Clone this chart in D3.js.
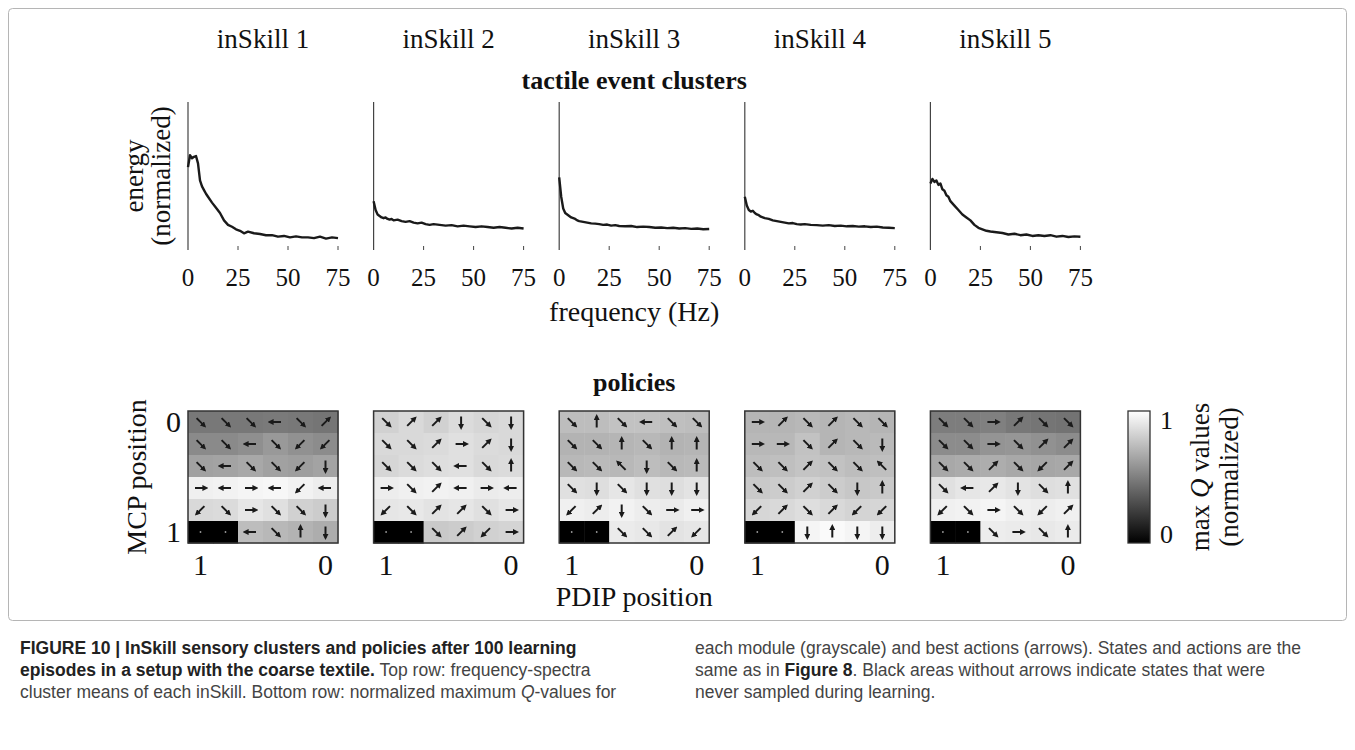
<!DOCTYPE html>
<html lang="en">
<head>
<meta charset="UTF-8">
<title>inSkill clusters and policies</title>
<script src="https://d3js.org/d3.v7.min.js"></script>
<style>
  body { margin: 0; background: #fff; }
  svg text.serif { font-family: "Liberation Serif", "Times New Roman", serif; fill: #111; }
  svg text.cap { font-family: "Liberation Sans", Arial, sans-serif; font-size: 17.5px; fill: #444; }
</style>
</head>
<body>
<svg id="fig" width="1355" height="750"></svg>
<script>

// ---- data ----
var skillNames = ["inSkill 1", "inSkill 2", "inSkill 3", "inSkill 4", "inSkill 5"];
var freqTicks = [0, 25, 50, 75];

// frequency samples (Hz)
var freqHz = [0, 1, 2, 3, 4, 5, 6, 7, 8, 9, 10, 12, 14, 16, 18, 20, 22, 24, 26, 28,
              30, 33, 36, 39, 42, 45, 48, 51, 54, 57, 60, 63, 66, 69, 72, 75];

// normalized energy of the cluster means, one array per inSkill
var energySkill1 = [0.56, 0.64, 0.62, 0.63, 0.635, 0.585, 0.47, 0.43, 0.405, 0.38, 0.36, 0.32, 0.285, 0.25, 0.2, 0.17,
                    0.157, 0.14, 0.13, 0.113, 0.124, 0.113, 0.108, 0.1, 0.1, 0.09, 0.095, 0.085, 0.092, 0.085,
                    0.085, 0.08, 0.09, 0.077, 0.085, 0.08];
var energySkill2 = [0.33, 0.27, 0.24, 0.23, 0.22, 0.215, 0.22, 0.21, 0.205, 0.21, 0.2, 0.205, 0.195, 0.19, 0.195, 0.185,
                    0.18, 0.185, 0.175, 0.17, 0.175, 0.17, 0.165, 0.168, 0.16, 0.165, 0.16, 0.155, 0.16, 0.155,
                    0.15, 0.155, 0.15, 0.145, 0.15, 0.145];
var energySkill3 = [0.49, 0.36, 0.28, 0.25, 0.24, 0.23, 0.22, 0.215, 0.21, 0.2, 0.195, 0.19, 0.185, 0.18, 0.178, 0.175,
                    0.17, 0.172, 0.165, 0.168, 0.162, 0.16, 0.162, 0.155, 0.158, 0.155, 0.15, 0.152, 0.148, 0.15,
                    0.145, 0.148, 0.143, 0.145, 0.14, 0.142];
var energySkill4 = [0.36, 0.3, 0.27, 0.26, 0.265, 0.25, 0.24, 0.235, 0.225, 0.22, 0.215, 0.21, 0.2, 0.195, 0.19, 0.185,
                    0.18, 0.182, 0.175, 0.172, 0.175, 0.17, 0.168, 0.165, 0.168, 0.162, 0.165, 0.16, 0.162, 0.158,
                    0.16, 0.155, 0.158, 0.152, 0.15, 0.148];
var energySkill5 = [0.45, 0.48, 0.46, 0.47, 0.44, 0.45, 0.41, 0.4, 0.37, 0.36, 0.33, 0.3, 0.27, 0.24, 0.22, 0.2,
                    0.17, 0.15, 0.14, 0.13, 0.125, 0.12, 0.115, 0.105, 0.11, 0.1, 0.105, 0.095, 0.1, 0.095,
                    0.1, 0.09, 0.095, 0.088, 0.092, 0.09];

// max Q values (normalized), rows MCP 0 -> 1, columns PDIP 1 -> 0
var qSkill1 = [[0.47, 0.47, 0.47, 0.48, 0.47, 0.46],
               [0.54, 0.54, 0.56, 0.6, 0.57, 0.55],
               [0.63, 0.64, 0.66, 0.63, 0.62, 0.64],
               [0.94, 0.95, 0.96, 0.97, 0.95, 0.93],
               [0.85, 0.86, 0.9, 0.88, 0.82, 0.8],
               [0, 0, 0.74, 0.72, 0.7, 0.68]];
var qSkill2 = [[0.82, 0.85, 0.82, 0.86, 0.84, 0.85],
               [0.85, 0.85, 0.86, 0.88, 0.86, 0.85],
               [0.84, 0.86, 0.87, 0.88, 0.85, 0.86],
               [0.93, 0.94, 0.95, 0.94, 0.92, 0.93],
               [0.9, 0.91, 0.89, 0.9, 0.88, 0.9],
               [0, 0, 0.79, 0.8, 0.82, 0.83]];
var qSkill3 = [[0.74, 0.74, 0.76, 0.76, 0.75, 0.74],
               [0.7, 0.7, 0.71, 0.72, 0.7, 0.71],
               [0.72, 0.73, 0.72, 0.74, 0.72, 0.73],
               [0.88, 0.87, 0.9, 0.88, 0.87, 0.89],
               [0.94, 0.93, 0.95, 0.93, 0.92, 0.94],
               [0, 0, 0.92, 0.91, 0.89, 0.9]];
var qSkill4 = [[0.71, 0.71, 0.72, 0.71, 0.72, 0.71],
               [0.72, 0.72, 0.76, 0.71, 0.72, 0.73],
               [0.74, 0.75, 0.77, 0.76, 0.74, 0.75],
               [0.79, 0.8, 0.82, 0.8, 0.78, 0.79],
               [0.84, 0.85, 0.87, 0.85, 0.83, 0.84],
               [0, 0, 0.96, 0.98, 0.96, 0.93]];
var qSkill5 = [[0.49, 0.49, 0.5, 0.47, 0.46, 0.45],
               [0.55, 0.55, 0.58, 0.59, 0.57, 0.55],
               [0.66, 0.67, 0.68, 0.66, 0.65, 0.66],
               [0.88, 0.9, 0.91, 0.89, 0.87, 0.88],
               [0.94, 0.95, 0.96, 0.94, 0.93, 0.94],
               [0, 0, 0.93, 0.92, 0.91, 0.92]];

// best action per state ("o" = never sampled)
var actSkill1 = [["SE", "SE", "SE", "W", "SE", "NE"],
                 ["SE", "SE", "W", "SE", "SW", "SW"],
                 ["SE", "W", "SE", "SE", "SW", "S"],
                 ["E", "W", "E", "W", "SW", "W"],
                 ["SW", "SE", "E", "SE", "SE", "S"],
                 ["o", "o", "W", "SE", "N", "S"]];
var actSkill2 = [["SE", "NE", "NE", "S", "SE", "S"],
                 ["SE", "SE", "NE", "E", "NE", "S"],
                 ["SE", "SE", "SE", "W", "SE", "N"],
                 ["E", "SE", "NE", "W", "E", "W"],
                 ["SW", "SE", "NE", "NE", "SE", "E"],
                 ["o", "o", "SE", "NE", "SW", "E"]];
var actSkill3 = [["SE", "N", "SE", "W", "SE", "SE"],
                 ["SE", "SE", "N", "SE", "N", "N"],
                 ["SE", "SE", "NW", "S", "SE", "N"],
                 ["SE", "S", "SE", "S", "S", "S"],
                 ["SW", "NE", "S", "SE", "E", "E"],
                 ["o", "o", "SE", "SE", "NE", "SW"]];
var actSkill4 = [["E", "NE", "SE", "NE", "SE", "SE"],
                 ["E", "E", "SE", "NE", "SE", "S"],
                 ["SE", "SE", "NE", "SE", "SE", "NW"],
                 ["SE", "SE", "NE", "SE", "S", "N"],
                 ["SW", "NE", "SE", "NE", "SW", "SW"],
                 ["o", "o", "S", "N", "S", "S"]];
var actSkill5 = [["SE", "SE", "E", "NE", "SE", "SE"],
                 ["SE", "SE", "E", "SE", "NE", "NE"],
                 ["SE", "SE", "NE", "SE", "SW", "NE"],
                 ["SE", "W", "NE", "S", "SE", "N"],
                 ["SW", "SE", "E", "SE", "SW", "NE"],
                 ["o", "o", "SE", "E", "SE", "N"]];

var energies = [energySkill1, energySkill2, energySkill3, energySkill4, energySkill5];
var qValues = [qSkill1, qSkill2, qSkill3, qSkill4, qSkill5];
var actions = [actSkill1, actSkill2, actSkill3, actSkill4, actSkill5];

// ---- layout ----
var panelX0 = 188, panelStep = 185.6, panelW = 150;
var topY0 = 102, topY1 = 250;
var mapY0 = 411, mapY1 = 543;
var midX = panelX0 + 2 * panelStep + panelW / 2;

var svg = d3.select("#fig");

// arrow head
svg.append("defs").append("marker")
    .attr("id", "ah")
    .attr("viewBox", "0 0 10 10")
    .attr("refX", 6).attr("refY", 5)
    .attr("markerWidth", 3).attr("markerHeight", 3)
    .attr("orient", "auto")
  .append("path")
    .attr("d", "M0,0 L10,5 L0,10 z")
    .attr("fill", "#1a1a1a");

// figure frame
svg.append("rect")
    .attr("x", 8.5).attr("y", 8.5)
    .attr("width", 1338).attr("height", 612)
    .attr("rx", 4)
    .attr("fill", "none")
    .attr("stroke", "#b5b5b5");

// scales shared by all panels
var x = d3.scaleLinear().domain([0, 75]).range([0, panelW]);
var y = d3.scaleLinear().domain([0, 1]).range([topY1 - topY0, 0]);
var col = d3.scaleBand().domain(d3.range(6)).range([0, panelW]);
var row = d3.scaleBand().domain(d3.range(6)).range([0, mapY1 - mapY0]);
var gray = d3.scaleLinear().domain([0, 1]).range(["#000000", "#ffffff"]);

var dirs = {
  E: [1, 0], W: [-1, 0], N: [0, -1], S: [0, 1],
  NE: [0.71, -0.71], NW: [-0.71, -0.71], SE: [0.71, 0.71], SW: [-0.71, 0.71]
};
var arrowLen = 11;

skillNames.forEach(function(name, i) {
  var px = panelX0 + i * panelStep;

  // column title
  svg.append("text").attr("class", "serif")
      .attr("x", px + panelW / 2).attr("y", 48)
      .attr("text-anchor", "middle")
      .style("font-size", "27px")
      .text(name);

  // spectrum panel
  var g = svg.append("g").attr("transform", "translate(" + px + "," + topY0 + ")");
  g.append("line")
      .attr("x1", 0).attr("x2", 0).attr("y1", 0).attr("y2", topY1 - topY0)
      .attr("stroke", "#444").attr("stroke-width", 1.2);
  g.selectAll("line.tick").data(freqTicks.slice(1)).enter().append("line")
      .attr("class", "tick")
      .attr("x1", function(d) { return x(d); }).attr("x2", function(d) { return x(d); })
      .attr("y1", topY1 - topY0).attr("y2", topY1 - topY0 - 4)
      .attr("stroke", "#444");
  g.selectAll("text.tl").data(freqTicks).enter().append("text")
      .attr("class", "serif tl")
      .attr("x", function(d) { return x(d); })
      .attr("y", 286 - topY0)
      .attr("text-anchor", "middle")
      .style("font-size", "25px")
      .text(function(d) { return d; });

  var line = d3.line()
      .x(function(d, k) { return x(freqHz[k]); })
      .y(function(d) { return y(d); });
  g.append("path")
      .datum(energies[i])
      .attr("d", line)
      .attr("fill", "none")
      .attr("stroke", "#1a1a1a")
      .attr("stroke-width", 2.4)
      .attr("stroke-linejoin", "round");

  // policy map
  var h = svg.append("g").attr("transform", "translate(" + px + "," + mapY0 + ")");
  var cells = [];
  qValues[i].forEach(function(r, ri) {
    r.forEach(function(v, ci) { cells.push({r: ri, c: ci, v: v, a: actions[i][ri][ci]}); });
  });
  h.selectAll("rect.cell").data(cells).enter().append("rect")
      .attr("class", "cell")
      .attr("x", function(d) { return col(d.c); })
      .attr("y", function(d) { return row(d.r); })
      .attr("width", col.bandwidth() + 0.5)
      .attr("height", row.bandwidth() + 0.5)
      .attr("fill", function(d) { return gray(d.v); });

  h.selectAll("line.arrow").data(cells.filter(function(d) { return d.a !== "o"; })).enter().append("line")
      .attr("class", "arrow")
      .attr("x1", function(d) { return col(d.c) + col.bandwidth() / 2 - dirs[d.a][0] * arrowLen / 2; })
      .attr("y1", function(d) { return row(d.r) + row.bandwidth() / 2 - dirs[d.a][1] * arrowLen / 2; })
      .attr("x2", function(d) { return col(d.c) + col.bandwidth() / 2 + dirs[d.a][0] * arrowLen / 2; })
      .attr("y2", function(d) { return row(d.r) + row.bandwidth() / 2 + dirs[d.a][1] * arrowLen / 2; })
      .attr("stroke", "#1a1a1a")
      .attr("stroke-width", 2)
      .attr("marker-end", "url(#ah)");

  h.selectAll("circle.dot").data(cells.filter(function(d) { return d.a === "o"; })).enter().append("circle")
      .attr("class", "dot")
      .attr("cx", function(d) { return col(d.c) + col.bandwidth() / 2; })
      .attr("cy", function(d) { return row(d.r) + row.bandwidth() / 2; })
      .attr("r", 0.9)
      .attr("fill", "#9a9a9a");

  h.append("rect")
      .attr("width", panelW).attr("height", mapY1 - mapY0)
      .attr("fill", "none").attr("stroke", "#333").attr("stroke-width", 1.5);

  // PDIP tick labels (first and last column)
  h.selectAll("text.pl").data([{c: 0, t: "1"}, {c: 5, t: "0"}]).enter().append("text")
      .attr("class", "serif pl")
      .attr("x", function(d) { return col(d.c) + col.bandwidth() / 2; })
      .attr("y", mapY1 - mapY0 + 32)
      .attr("text-anchor", "middle")
      .style("font-size", "30px")
      .text(function(d) { return d.t; });
});

// group titles and axis labels
svg.append("text").attr("class", "serif")
    .attr("x", midX).attr("y", 89)
    .attr("text-anchor", "middle")
    .style("font-size", "26px").style("font-weight", "bold")
    .text("tactile event clusters");

svg.append("text").attr("class", "serif")
    .attr("x", midX).attr("y", 321)
    .attr("text-anchor", "middle")
    .style("font-size", "28px")
    .text("frequency (Hz)");

svg.append("text").attr("class", "serif")
    .attr("x", midX).attr("y", 391)
    .attr("text-anchor", "middle")
    .style("font-size", "26px").style("font-weight", "bold")
    .text("policies");

svg.append("text").attr("class", "serif")
    .attr("x", midX).attr("y", 606)
    .attr("text-anchor", "middle")
    .style("font-size", "28px")
    .text("PDIP position");

var yMid = (topY0 + topY1) / 2;
svg.append("text").attr("class", "serif")
    .attr("transform", "translate(143," + yMid + ") rotate(-90)")
    .attr("text-anchor", "middle")
    .style("font-size", "27px")
    .text("energy");
svg.append("text").attr("class", "serif")
    .attr("transform", "translate(170," + yMid + ") rotate(-90)")
    .attr("text-anchor", "middle")
    .style("font-size", "27px")
    .text("(normalized)");

var mapMid = (mapY0 + mapY1) / 2;
svg.append("text").attr("class", "serif")
    .attr("transform", "translate(146," + mapMid + ") rotate(-90)")
    .attr("text-anchor", "middle")
    .style("font-size", "28px")
    .text("MCP position");

svg.selectAll("text.ml").data([{r: 0, t: "0"}, {r: 5, t: "1"}]).enter().append("text")
    .attr("class", "serif ml")
    .attr("x", 181)
    .attr("y", function(d) { return mapY0 + row(d.r) + row.bandwidth() / 2 + 10; })
    .attr("text-anchor", "end")
    .style("font-size", "30px")
    .text(function(d) { return d.t; });

// colorbar
var cbX = 1128, cbW = 22;
var grad = svg.select("defs").append("linearGradient")
    .attr("id", "cbg").attr("x1", 0).attr("y1", 1).attr("x2", 0).attr("y2", 0);
grad.append("stop").attr("offset", "0%").attr("stop-color", gray(0));
grad.append("stop").attr("offset", "100%").attr("stop-color", gray(1));
svg.append("rect")
    .attr("x", cbX).attr("y", mapY0)
    .attr("width", cbW).attr("height", mapY1 - mapY0)
    .attr("fill", "url(#cbg)")
    .attr("stroke", "#333").attr("stroke-width", 1.3);

var cbScale = d3.scaleLinear().domain([0, 1]).range([mapY1 - 9, mapY0 + 9]);
svg.selectAll("text.cb").data([0, 1]).enter().append("text")
    .attr("class", "serif cb")
    .attr("x", cbX + cbW + 10)
    .attr("y", function(d) { return cbScale(d) + 9; })
    .style("font-size", "26px")
    .text(function(d) { return d; });

var cbLabel = svg.append("text").attr("class", "serif")
    .attr("transform", "translate(1209," + mapMid + ") rotate(-90)")
    .attr("text-anchor", "middle")
    .style("font-size", "27px");
cbLabel.append("tspan").text("max ");
cbLabel.append("tspan").style("font-style", "italic").text("Q");
cbLabel.append("tspan").text(" values");
svg.append("text").attr("class", "serif")
    .attr("transform", "translate(1238," + mapMid + ") rotate(-90)")
    .attr("text-anchor", "middle")
    .style("font-size", "27px")
    .text("(normalized)");

// caption
var capLines = [
  {x: 20, y: 654, parts: [{t: "FIGURE 10 | InSkill sensory clusters and policies after 100 learning", b: true}]},
  {x: 20, y: 676, parts: [{t: "episodes in a setup with the coarse textile.", b: true}, {t: " Top row: frequency-spectra"}]},
  {x: 20, y: 698, parts: [{t: "cluster means of each inSkill. Bottom row: normalized maximum "}, {t: "Q", i: true}, {t: "-values for"}]},
  {x: 695, y: 654, parts: [{t: "each module (grayscale) and best actions (arrows). States and actions are the"}]},
  {x: 695, y: 676, parts: [{t: "same as in "}, {t: "Figure 8", b: true}, {t: ". Black areas without arrows indicate states that were"}]},
  {x: 695, y: 698, parts: [{t: "never sampled during learning."}]}
];
capLines.forEach(function(l) {
  var t = svg.append("text").attr("class", "cap").attr("x", l.x).attr("y", l.y);
  l.parts.forEach(function(p) {
    var s = t.append("tspan").text(p.t);
    if (p.b) s.style("font-weight", "bold").style("fill", "#222");
    if (p.i) s.style("font-style", "italic");
  });
});

</script>
</body>
</html>
